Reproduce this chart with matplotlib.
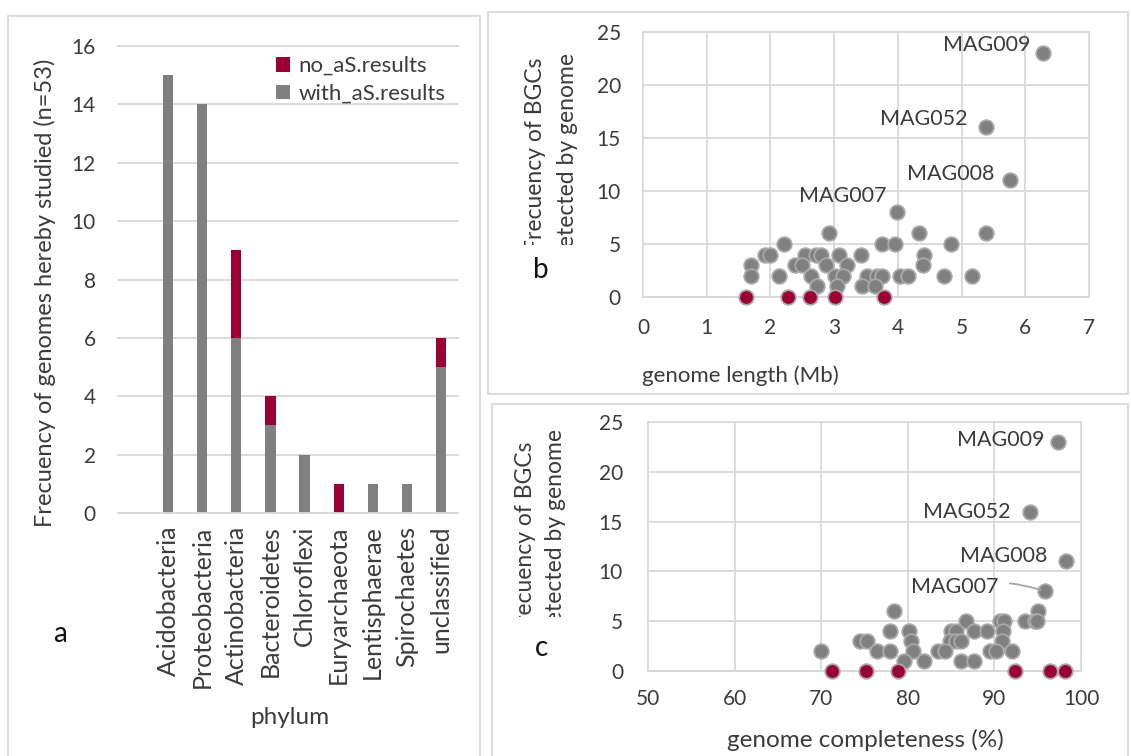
import matplotlib
matplotlib.use("Agg")
import matplotlib.pyplot as plt
from matplotlib.patches import Rectangle
from matplotlib.transforms import Bbox

plt.rcParams["font.family"] = ["Lato", "DejaVu Sans"]

W, H, DPI = 1131, 756, 100

# ---- panel a: genomes per phylum ----
phyla = ["Acidobacteria", "Proteobacteria", "Actinobacteria", "Bacteroidetes",
         "Chloroflexi", "Euryarchaeota", "Lentisphaerae", "Spirochaetes",
         "unclassified"]
with_as = [15, 14, 6, 3, 2, 0, 1, 1, 5]
no_as = [0, 0, 3, 1, 0, 1, 0, 0, 1]

# ---- panel b: BGC count vs genome length (Mb) ----
len_gray = [2.92, 4.33, 5.38,
            2.21, 3.75, 3.95, 4.83,
            1.92, 2.00, 2.54, 2.72, 2.80, 3.08, 3.42, 4.41,
            1.69, 2.39, 2.49, 2.87, 3.20, 4.40,
            1.69, 2.14, 2.63, 3.01, 3.14, 3.51, 3.67, 3.75, 4.04, 4.16, 4.73, 5.17,
            2.73, 3.04, 3.43, 3.64]
bgc_len_gray = [6, 6, 6,
                5, 5, 5, 5,
                4, 4, 4, 4, 4, 4, 4, 4,
                3, 3, 3, 3, 3, 3,
                2, 2, 2, 2, 2, 2, 2, 2, 2, 2, 2, 2,
                1, 1, 1, 1]
len_red = [1.62, 2.27, 2.62, 3.01, 3.78]
bgc_len_red = [0, 0, 0, 0, 0]

# ---- panel c: BGC count vs genome completeness (%) ----
comp_gray = [78.4, 95.0,
             86.7, 90.6, 91.1, 93.5, 94.7, 94.9,
             77.9, 80.1, 85.0, 85.6, 87.6, 89.2, 91.0,
             74.5, 75.3, 80.4, 84.9, 85.6, 86.2, 90.9,
             70.0, 76.4, 77.9, 80.6, 83.5, 84.3, 89.5, 90.2, 92.0,
             79.6, 81.9, 86.2, 87.6]
bgc_comp_gray = [6, 6,
                 5, 5, 5, 5, 5, 5,
                 4, 4, 4, 4, 4, 4, 4,
                 3, 3, 3, 3, 3, 3, 3,
                 2, 2, 2, 2, 2, 2, 2, 2, 2,
                 1, 1, 1, 1]
comp_red = [71.2, 75.2, 78.9, 92.4, 96.4, 98.2]
bgc_comp_red = [0, 0, 0, 0, 0, 0]

# labelled genomes
mag_ids = ["MAG009", "MAG052", "MAG008", "MAG007"]
mag_len = [6.28, 5.38, 5.76, 3.98]
mag_comp = [97.4, 94.1, 98.3, 95.8]
mag_bgc = [23, 16, 11, 8]

GRAY = "#808080"
RED = "#9b0034"
EDGE = "#a9a9a9"
GRID = "#d9d9d9"
TXT = "#3b3b3b"
TICK_FS = 15
CAT_FS = 18
LAB_FS = 16
ANN_FS = 15.5


def px_rect(l, t, r, b):
    return [l / W, 1 - b / H, (r - l) / W, (b - t) / H]


def fx(x):
    return x / W


def fy(y):
    return 1 - y / H


fig = plt.figure(figsize=(W / DPI, H / DPI), dpi=DPI)

# panel frames
for (l, t, r, b) in [(8, 16, 480, 770), (488, 12, 1128, 394), (492, 404, 1128, 770)]:
    fig.add_artist(Rectangle((fx(l), fy(b)), (r - l) / W, (b - t) / H,
                             transform=fig.transFigure, fill=False,
                             ec=GRID, lw=1.3))


def style_axes(ax, xgrid):
    for s in ["top", "right", "left"]:
        ax.spines[s].set_visible(False)
    ax.spines["bottom"].set_color(GRID)
    ax.spines["bottom"].set_linewidth(1.3)
    ax.tick_params(length=0, labelsize=TICK_FS, labelcolor=TXT)
    ax.grid(axis="y", color=GRID, lw=1.3)
    if xgrid:
        ax.grid(axis="x", color=GRID, lw=1.3)
    ax.set_axisbelow(True)
    for ln in ax.get_xgridlines() + ax.get_ygridlines():
        ln.set_clip_on(False)


# ---------------- panel a ----------------
ax_a = fig.add_axes(px_rect(118, 46, 458, 513))
xs = list(range(len(phyla)))
ax_a.bar(xs, with_as, width=0.3, color=GRAY, label="with_aS.results", zorder=2)
ax_a.bar(xs, no_as, width=0.3, bottom=with_as, color=RED,
         label="no_aS.results", zorder=2)
ax_a.set_xlim(-1.47, 8.5)
ax_a.set_ylim(0, 16)
ax_a.set_yticks(range(0, 17, 2))
ax_a.set_xticks(xs)
style_axes(ax_a, False)
ax_a.set_xticklabels(phyla, rotation=90, fontsize=CAT_FS)
ax_a.tick_params(axis="y", pad=16)
ax_a.tick_params(axis="x", pad=9)
h, lab = ax_a.get_legend_handles_labels()
ax_a.legend(h[::-1], lab[::-1], loc="upper left",
            bbox_to_anchor=(fx(256), fy(36)), bbox_transform=fig.transFigure,
            frameon=False, fontsize=LAB_FS, handlelength=0.65, handleheight=0.65,
            handletextpad=0.35, labelspacing=0.35, labelcolor=TXT)

fig.text(fx(45), fy(293), "Frecuency of genomes hereby studied (n=53)",
         rotation=90, ha="center", va="center", fontsize=17, color=TXT)
fig.text(fx(290), fy(718), "phylum", ha="center", va="center",
         fontsize=17.5, color=TXT)
fig.text(fx(60), fy(634), "a", ha="center", va="center", fontsize=20,
         color="#111111")

MS = 110


def scatter_pts(ax, x, y, color):
    ax.scatter(x, y, s=MS, c=color, edgecolors=EDGE, linewidths=1.3,
               zorder=3, clip_on=False)


# ---------------- panel b ----------------
ax_b = fig.add_axes(px_rect(643, 32, 1089, 297))
scatter_pts(ax_b, len_gray, bgc_len_gray, GRAY)
scatter_pts(ax_b, mag_len, mag_bgc, GRAY)
scatter_pts(ax_b, len_red, bgc_len_red, RED)
ax_b.set_xlim(0, 7)
ax_b.set_ylim(0, 25)
ax_b.set_xticks(range(0, 8))
ax_b.set_yticks(range(0, 26, 5))
style_axes(ax_b, True)
ax_b.tick_params(axis="y", pad=16)
ax_b.tick_params(axis="x", pad=15)

b_offsets = [(-13, 8), (-18, 8), (-16, 6), (-10, 16)]
for name, x, y, off in zip(mag_ids, mag_len, mag_bgc, b_offsets):
    ax_b.annotate(name, (x, y), xytext=off, textcoords="offset pixels",
                  ha="right", va="center", fontsize=ANN_FS, color=TXT)

fig.text(fx(740), fy(376), "genome length (Mb)", ha="center", va="center",
         fontsize=LAB_FS, color=TXT)
fig.text(fx(541), fy(270), "b", ha="center", va="center", fontsize=20,
         color="#111111")

clip_b = Bbox.from_extents(488, H - 245, 1128, H - 12)
for txt, x, top in [("Frecuency of BGCs", 535, 58),
                    ("detected by genome", 568, 53)]:
    t = fig.text(fx(x), fy(top), txt, rotation=90, ha="center", va="top",
                 fontsize=16.5, color=TXT)
    t.set_clip_box(clip_b)
    t.set_clip_on(True)

# ---------------- panel c ----------------
ax_c = fig.add_axes(px_rect(648, 422, 1081, 671))
scatter_pts(ax_c, comp_gray, bgc_comp_gray, GRAY)
scatter_pts(ax_c, mag_comp, mag_bgc, GRAY)
scatter_pts(ax_c, comp_red, bgc_comp_red, RED)
ax_c.set_xlim(50, 100)
ax_c.set_ylim(0, 25)
ax_c.set_xticks(range(50, 101, 10))
ax_c.set_yticks(range(0, 26, 5))
style_axes(ax_c, True)
ax_c.tick_params(axis="y", pad=18)
ax_c.tick_params(axis="x", pad=13)

c_offsets = [(-14, 2), (-19, 0), (-19, 5), (-46, 4)]
for name, x, y, off in zip(mag_ids, mag_comp, mag_bgc, c_offsets):
    kw = {}
    if name == "MAG007":
        kw["arrowprops"] = dict(arrowstyle="-", color="#a6a6a6", lw=1.3,
                                shrinkA=6, shrinkB=3,
                                connectionstyle="arc3,rad=-0.15")
    ax_c.annotate(name, (x, y), xytext=off, textcoords="offset pixels",
                  ha="right", va="center", fontsize=ANN_FS, color=TXT, **kw)

fig.text(fx(865), fy(740), "genome completeness (%)", ha="center",
         va="center", fontsize=17.5, color=TXT)
fig.text(fx(541), fy(648), "c", ha="center", va="center", fontsize=20,
         color="#111111")

clip_c = Bbox.from_extents(492, H - 617, 1128, H - 404)
for txt, x, top in [("Frecuency of BGCs", 525, 442),
                    ("detected by genome", 555, 429)]:
    t = fig.text(fx(x), fy(top), txt, rotation=90, ha="center", va="top",
                 fontsize=16.5, color=TXT)
    t.set_clip_box(clip_c)
    t.set_clip_on(True)

fig.savefig("out.png", dpi=DPI)
